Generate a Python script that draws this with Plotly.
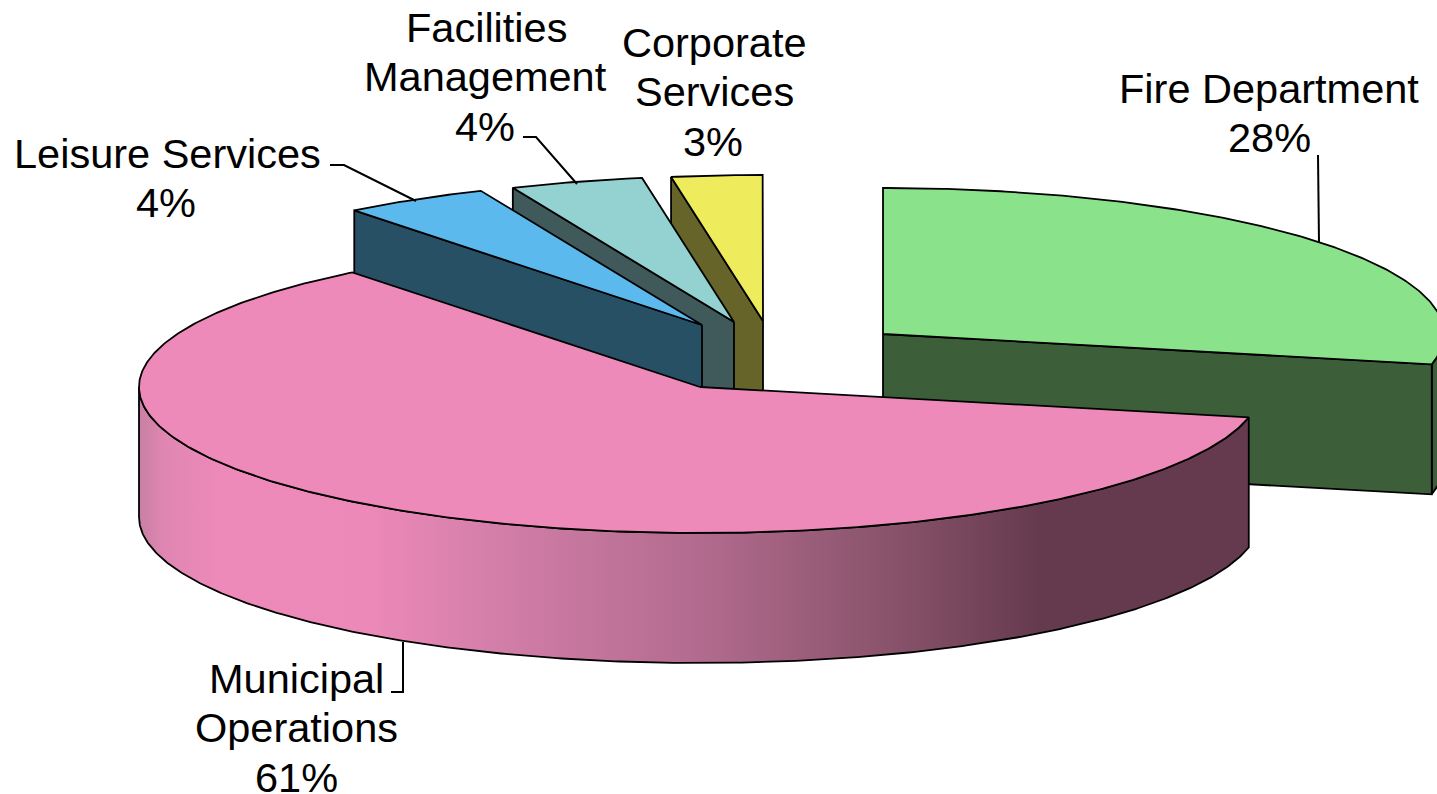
import numpy as np
import plotly.graph_objects as go

# --- data ---
categories = ["Fire Department", "Municipal Operations", "Leisure Services",
              "Facilities Management", "Corporate Services"]
values = [28.33, 61.03, 4.19, 3.83, 2.61]
percent_labels = ["28%", "61%", "4%", "4%", "3%"]
label_lines = [["Fire Department", "28%"],
               ["Municipal", "Operations", "61%"],
               ["Leisure Services", "4%"],
               ["Facilities", "Management", "4%"],
               ["Corporate", "Services", "3%"]]

# --- styling and layout ---
top_colors = ["#8AE28A", "#EE8ABA", "#5BB9EE", "#94D1D1", "#EEEC5C"]
side_colors = ["#3C5F39", "#653A4E", "#275064", "#405A5B", "#666428"]
apex_x = [883, 700, 702, 734, 763]
apex_y = [334, 387, 325, 322, 321]
label_x = [[1269, 1269], [296, 296, 296], [167, 166], [486, 485, 485], [714, 714, 713]]
label_y0 = [88, 678, 153, 27, 42]
line_step = 49.5
RX, RY, DEPTH = 561, 146, 130
START = -90.0
FONT = "Liberation Sans, Arial, sans-serif"
FONT_SIZE = 41.5
pink_gradient = [(139, "#C880A4"), (165, "#E086B2"), (225, "#EE8ABA"), (370, "#EC89B8"),
                 (500, "#D27EA8"), (700, "#B26B8E"), (900, "#875269"), (1040, "#653A4E"),
                 (1249, "#653A4E")]
leaders = [([1318, 1319], [155, 243]),
           ([391, 403, 403], [692, 692, 642]),
           ([330, 344, 416], [165, 165, 201]),
           ([523, 536, 577], [137, 137, 184])]

# --- angles derived from the values ---
edges = START + np.concatenate([[0], np.cumsum(values)]) * 3.6
LINE = dict(color="black", width=1.8)


def arc(i, a, b, drop=0):
    t = np.radians(np.linspace(a, b, max(int(abs(b - a) * 2), 2)))
    return apex_x[i] + RX * np.cos(t), apex_y[i] + RY * np.sin(t) + drop


def add_poly(fig, x, y, color, **extra):
    fig.add_trace(go.Scatter(x=np.r_[x, x[0]], y=np.r_[y, y[0]], mode="lines", fill="toself",
                             fillcolor=color, line=LINE, hoverinfo="skip", showlegend=False, **extra))


def radial_wall(fig, i, angle):
    x, y = arc(i, angle, angle)
    px, py = x[0], y[0]
    add_poly(fig, np.array([apex_x[i], px, px, apex_x[i]]),
             np.array([apex_y[i], py, py + DEPTH, apex_y[i] + DEPTH]), side_colors[i])


def outer_wall(fig, i, a, b, **extra):
    x, y = arc(i, a, b)
    xb, yb = arc(i, b, a, DEPTH)
    add_poly(fig, np.r_[x, xb], np.r_[y, yb], side_colors[i], **extra)


def top(fig, i):
    x, y = arc(i, edges[i], edges[i + 1])
    add_poly(fig, np.r_[apex_x[i], x], np.r_[apex_y[i], y], top_colors[i])


fig = go.Figure()

# Fire Department (back right)
outer_wall(fig, 0, 0, edges[1])
radial_wall(fig, 0, edges[1])
top(fig, 0)

# small wedges, back to front
for i in (4, 3, 2):
    radial_wall(fig, i, edges[i])
    top(fig, i)

# Municipal Operations (front) with shaded rim
span = pink_gradient[-1][0] - pink_gradient[0][0]
scale = [[(p - pink_gradient[0][0]) / span, c] for p, c in pink_gradient]
outer_wall(fig, 1, edges[1], 180,
           fillgradient=dict(type="horizontal", colorscale=scale,
                             start=pink_gradient[0][0], stop=pink_gradient[-1][0]))
top(fig, 1)

for lx, ly in leaders:
    fig.add_trace(go.Scatter(x=lx, y=ly, mode="lines", line=dict(color="black", width=2),
                             hoverinfo="skip", showlegend=False))

for i, lines in enumerate(label_lines):
    for j, text in enumerate(lines):
        fig.add_annotation(x=label_x[i][j], y=label_y0[i] + j * line_step, text=text,
                           showarrow=False, xanchor="center", yanchor="middle",
                           font=dict(family=FONT, size=FONT_SIZE, color="black"))

fig.update_layout(width=1437, height=794, margin=dict(l=0, r=0, t=0, b=0),
                  paper_bgcolor="white", plot_bgcolor="white", showlegend=False,
                  xaxis=dict(range=[0, 1437], visible=False, fixedrange=True),
                  yaxis=dict(range=[794, 0], visible=False, fixedrange=True))

fig.write_html("out.html", config={"displayModeBar": False},
               post_script="document.body.style.margin='0';")
